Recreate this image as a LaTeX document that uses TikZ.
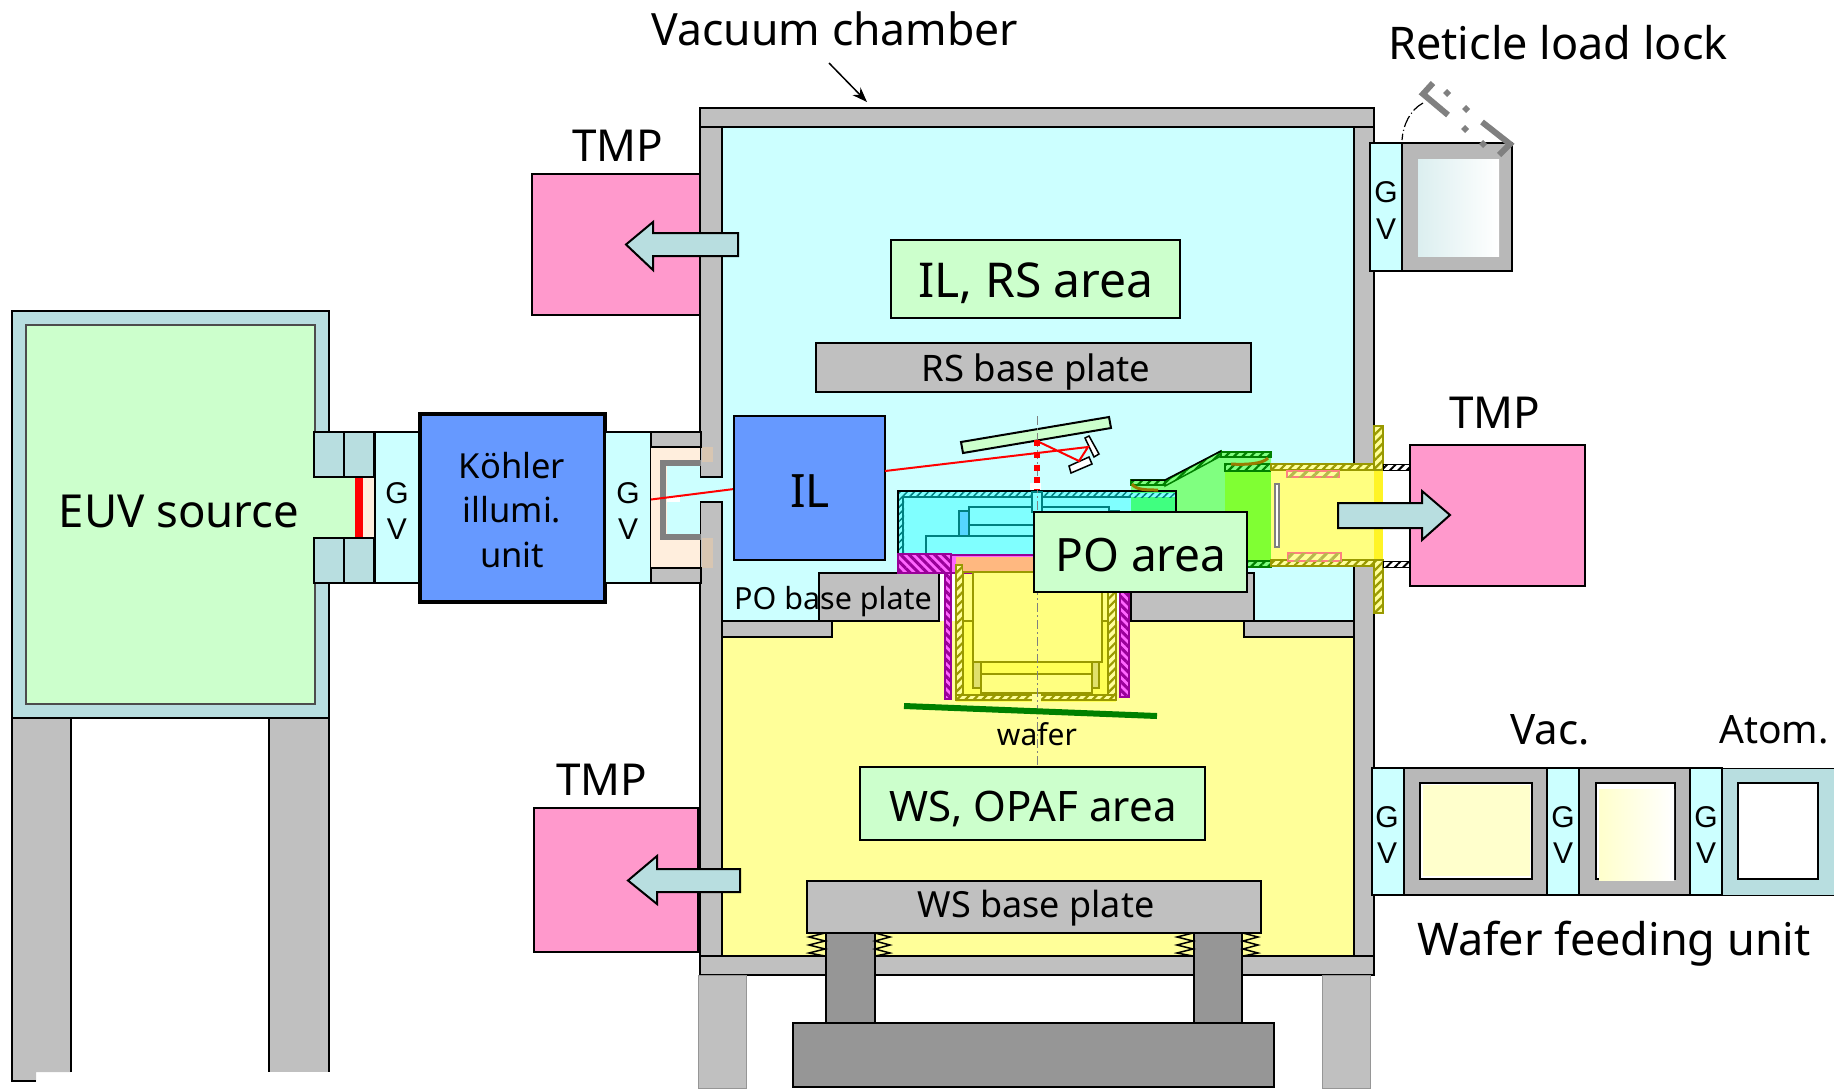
\documentclass[tikz,border=0pt]{standalone}
\usepackage{fontspec}
\setmainfont{Noto Sans}
\usetikzlibrary{patterns.meta,arrows.meta}
\definecolor{cyanbg}{HTML}{CCFFFF}
\definecolor{yelbg}{HTML}{FFFF99}
\definecolor{yelin}{HTML}{FFFF80}
\definecolor{yelbr}{HTML}{FFFF55}
\definecolor{plate}{HTML}{C0C0C0}
\definecolor{tealc}{HTML}{B8DEE0}
\definecolor{greenc}{HTML}{CCFFCC}
\definecolor{bluec}{HTML}{6699FF}
\definecolor{pinkc}{HTML}{FF99CC}
\definecolor{darkg}{HTML}{969696}
\definecolor{peach}{HTML}{FFEEDD}
\definecolor{peachd}{HTML}{D8C6B2}
\definecolor{lockg}{HTML}{B8B8B8}
\definecolor{polyc}{HTML}{80FFFF}
\definecolor{tealline}{HTML}{008080}
\definecolor{olive}{HTML}{999900}
\definecolor{brownc}{HTML}{997A00}
\definecolor{magc}{HTML}{990099}
\definecolor{magl}{HTML}{FF66FF}
\definecolor{doorg}{HTML}{808080}
\definecolor{orgc}{HTML}{FFB880}
\definecolor{lgreen}{HTML}{80FF80}
\definecolor{cgreen}{HTML}{40FF80}
\definecolor{bgreen}{HTML}{80FF33}
\definecolor{bluer}{HTML}{55D5FF}
\newcommand\fsz[1]{\fontsize{#1}{#1}\selectfont}
\newcommand\rc[5]{\path[#1] (#2,#3) rectangle (#4,#5);}
\newcommand\spr[2]{\draw[springline] (#1,933) -- ++(#2,4) -- ++(-#2,4) -- ++(#2,4) -- ++(-#2,4) -- ++(#2,4) -- ++(-#2,3);}
\tikzset{
 bk/.style={draw=black,line width=2pt},
 wall/.style={fill=plate,bk},
 lab/.style={inner sep=0pt,text=black,align=center},
 gvbox/.style={fill=cyanbg,bk},
 gvt/.style={font=\fsz{30}\fontspec{Liberation Sans},inner sep=0pt},
 tealbox/.style={fill=tealc,draw=black,line width=1.5pt},
 tmpbox/.style={fill=pinkc,bk},
 flow/.style={fill=tealc,bk,line join=miter},
 inner block/.style={draw=tealline,line width=1.5pt},
 hatch green/.style={fill=lgreen,draw=green!50!black,line width=1.5pt,postaction={pattern={Lines[angle=45,distance=6pt,line width=2.2pt]},pattern color=green!50!black}},
 hatch yel/.style={fill=yelbg,draw=olive,line width=1.5pt,postaction={pattern={Lines[angle=45,distance=6pt,line width=2.2pt]},pattern color=olive}},
 hatch cy/.style={fill=polyc,postaction={pattern={Lines[angle=45,distance=5pt,line width=1.5pt]},pattern color=tealline}},
 hatch mag/.style={fill=magl,draw=magc,line width=1.5pt,postaction={pattern={Lines[angle=-45,distance=6pt,line width=3pt]},pattern color=magc}},
 hatch pink/.style={fill=yelbg,draw=red!50,line width=1.5pt,postaction={pattern={Lines[angle=45,distance=8pt,line width=3pt]},pattern color=olive!70}},
 hatch bw/.style={fill=white,draw=black,line width=1pt,postaction={pattern={Lines[angle=45,distance=6pt,line width=2pt]},pattern color=black}},
 olivebox/.style={draw=olive,line width=1.5pt},
 springline/.style={draw=black,line width=1.5pt},
 redray/.style={draw=red,line width=2pt},
 axisline/.style={draw=doorg,line width=1pt,dash pattern=on 9pt off 3pt on 2pt off 3pt},
 doorline/.style={draw=doorg,line width=6pt},
 doordot/.style={fill=doorg},
}
\begin{document}
\begin{tikzpicture}[x=1pt,y=-1pt]
\useasboundingbox (0,0) rectangle (1834,1088);
% ---------- chamber interior
\rc{fill=cyanbg}{700}{127}{1354}{621}
\rc{fill=white}{939}{573}{1131}{621}
\rc{fill=yelbg}{722}{621}{1354}{956}
\rc{wall}{700}{127}{722}{477}
\rc{wall}{700}{502}{722}{956}
\rc{wall}{1354}{127}{1374}{956}
\rc{wall}{700}{108}{1374}{127}
\rc{wall}{700}{956}{1374}{975}
\rc{wall}{722}{621}{832}{637}
\rc{wall}{1244}{621}{1354}{637}
% legs
\rc{fill=plate,draw=darkg,line width=1pt}{698}{975}{746}{1088}
\rc{fill=plate,draw=darkg,line width=1pt}{1322}{975}{1370}{1088}
% ---------- EUV source
\path[fill=plate] (12,719) -- (12,1081) -- (36,1081) -- (36,1072) -- (71,1072) -- (71,719) -- cycle;
\draw[black,line width=2pt] (36,1081) -- (12,1081) -- (12,719) (71,719) -- (71,1072);
\rc{fill=plate}{269}{719}{329}{1072}
\draw[black,line width=2pt] (269,719) -- (269,1072) (329,719) -- (329,1072);
\rc{tealbox}{12}{311}{329}{718}
\rc{fill=greenc,draw=black!70,line width=1.5pt}{26}{325}{315}{704}
\rc{fill=greenc}{310}{477}{355}{538}
\rc{fill=peach}{355}{477}{374}{538}
\rc{fill=red}{355}{477}{363}{538}
\rc{tealbox}{314}{432}{344}{477}
\rc{tealbox}{344}{432}{374}{477}
\rc{tealbox}{314}{538}{344}{583}
\rc{tealbox}{344}{538}{374}{583}
\node[lab,font=\fsz{45.5}] (euv) at (179,511) {EUV source};
% ---------- gate valves + Koehler
\rc{gvbox}{375}{432}{419}{583}
\node[gvt] (gv1g) at (397,493) {G};
\node[gvt] (gv1v) at (397,529) {V};
\rc{fill=bluec,draw=black,line width=4pt}{420}{414}{605}{602}
\node[lab,font=\fsz{34.5}] (koh1) at (512,466) {Köhler};
\node[lab,font=\fsz{34.5}] (koh2) at (512,510) {illumi.};
\node[lab,font=\fsz{34.5}] (koh3) at (512,555) {unit};
\rc{gvbox}{605}{432}{651}{583}
\node[gvt] (gv2g) at (628,493) {G};
\node[gvt] (gv2v) at (628,529) {V};
% coupling
\rc{fill=peach}{651}{447}{700}{568}
\rc{wall}{651}{432}{701}{447}
\rc{wall}{651}{568}{701}{583}
\rc{fill=cyanbg}{667}{466}{700}{534}
\rc{fill=cyanbg}{699}{478}{723}{501}
\draw[draw=doorg,line width=6pt] (701,463) -- (663,463) -- (663,537) -- (701,537);
\rc{fill=white}{667}{496}{680}{502}
\rc{fill=peachd}{702}{447}{713}{462}
\rc{fill=peachd}{702}{538}{713}{568}
% ---------- load lock
\rc{gvbox}{1370}{143}{1402}{271}
\node[gvt] (gv3g) at (1386,192) {G};
\node[gvt] (gv3v) at (1386,229) {V};
\rc{fill=lockg,bk}{1402}{143}{1512}{271}
\path[left color=tealc!50,right color=white] (1418,159) rectangle (1499,256);
\draw[doorline] (1433,83) -- (1423,94) -- (1448,115);
\draw[doorline] (1482,122) -- (1510,144) -- (1499,155);
\foreach \p/\q in {1447/93,1466/109,1465/129,1483/144}{\path[doordot] (\p,\q-4) -- (\p+4,\q) -- (\p,\q+4) -- (\p-4,\q) -- cycle;}
\coordinate (arcA) at (1423,103);
\coordinate (arcB) at (1402,140);
\draw[black,line width=1.2pt,dash pattern=on 12pt off 3pt on 1pt off 3pt] (arcA) .. controls (1410,110) and (1403,125) .. (arcB);
% ---------- wafer feeding
\rc{gvbox}{1372}{768}{1404}{895}
\node[gvt] (gv4g) at (1387,817) {G};
\node[gvt] (gv4v) at (1387,853) {V};
\rc{fill=lockg,bk}{1404}{768}{1547}{895}
\rc{fill=white,bk}{1420}{783}{1532}{879}
\rc{fill=yelbg!50!white}{1423}{785}{1530}{876}
\rc{gvbox}{1547}{768}{1579}{895}
\node[gvt] (gv5g) at (1563,817) {G};
\node[gvt] (gv5v) at (1563,853) {V};
\rc{fill=lockg,bk}{1579}{768}{1690}{895}
\rc{fill=white,bk}{1596}{783}{1675}{879}
\path[left color=yelbg!50!white,right color=white] (1599,789) rectangle (1674,880);
\rc{gvbox}{1690}{768}{1722}{895}
\node[gvt] (gv6g) at (1706,817) {G};
\node[gvt] (gv6v) at (1706,853) {V};
\rc{fill=tealc,draw=black,line width=1pt}{1722}{768}{1834}{895}
\rc{fill=white,bk}{1738}{783}{1818}{879}
\node[lab,font=\fsz{42}] (vac) at (1550,730) {Vac.};
\node[lab,font=\fsz{39}] (atom) at (1774,730) {Atom.};
\node[lab,font=\fsz{45}] (wfu) at (1614,944) {Wafer feeding unit};
% ---------- TMPs
\rc{tmpbox}{532}{174}{700}{315}
\rc{tmpbox}{534}{808}{698}{952}
\rc{tmpbox}{1410}{445}{1585}{586}
\node[lab,font=\fsz{44}] (tmp1) at (618,146) {TMP};
\node[lab,font=\fsz{44}] (tmp2) at (602,780) {TMP};
\node[lab,font=\fsz{44}] (tmp3) at (1495,413) {TMP};
\path[flow] (738,233) -- (653,233) -- (653,222) -- (626,244.5) -- (653,270) -- (653,256) -- (738,256) -- cycle;
\path[flow] (740,869) -- (657,869) -- (657,856) -- (628,880.5) -- (657,904) -- (657,892) -- (740,892) -- cycle;
% ---------- base plates + area boxes
\rc{fill=greenc,bk}{891}{240}{1180}{318}
\node[lab,font=\fsz{48}] (ilrs) at (1036,283) {IL, RS area};
\rc{wall}{816}{343}{1251}{392}
\node[lab,font=\fsz{36.5}] (rsb) at (1036,372) {RS base plate};
\rc{wall}{819}{573}{939}{621}
\rc{wall}{1131}{573}{1254}{621}
% ---------- IL + beam
\draw[redray] (651,499.5) -- (734,489);
\rc{fill=bluec,bk}{734}{416}{885}{560}
\node[lab,font=\fsz{46}] (il) at (810,491) {IL};
% ---------- projection optics: cyan body
\rc{fill=polyc,draw=none}{898}{491}{1176}{556}
\rc{hatch cy}{899}{492}{1176}{497}
\rc{hatch cy}{899}{492}{904}{556}
\draw[black,line width=2pt] (898,556) -- (898,491) -- (1176,491) -- (1176,556);
\draw[inner block] (903,556) -- (903,497) -- (1176,497);
\rc{fill=polyc,inner block}{969}{507}{1109}{525}
\rc{fill=polyc,inner block}{1109}{511}{1119}{525}
\rc{fill=polyc,inner block}{969}{525}{1060}{536}
\rc{fill=bluer,inner block}{959}{511}{969}{536}
\rc{fill=polyc,inner block}{926}{536}{1060}{556}
\rc{fill=polyc,inner block}{1032}{492}{1042}{512}
% ---------- wafer-stage optics: yellow
\rc{fill=yelbr}{956}{621}{1116}{702}
\rc{fill=yelin}{956}{557}{1116}{621}
\rc{fill=magl,draw=magc,line width=1.5pt}{951}{555}{1116}{573}
\rc{fill=orgc,draw=none}{956}{557}{1116}{572}
\rc{hatch yel}{956}{565}{963}{700}
\rc{hatch yel}{1108}{565}{1116}{700}
\rc{hatch yel}{956}{695}{1116}{700}
\rc{fill=yelbg}{1032}{693}{1041}{702}
\rc{fill=yelin,olivebox}{973}{572}{1102}{662}
\rc{fill=orgc,draw=none}{963}{558}{1102}{571}
\draw[olivebox] (963,572) -- (1102,572);
\rc{fill=yelbr,olivebox}{981}{662}{1092}{674}
\rc{fill=yelin,olivebox}{981}{674}{1092}{693}
\rc{fill=yelbg!70!olive,olivebox}{973}{662}{981}{688}
\rc{fill=yelbg!70!olive,olivebox}{1092}{662}{1099}{688}
\draw[olivebox] (963,621) -- (973,621) (1102,621) -- (1108,621);
% magenta holders
\rc{hatch mag}{898}{554}{951}{573}
\rc{hatch mag}{945}{573}{951}{699}
\rc{hatch mag}{1120}{592}{1129}{697}
% ---------- green part
\path[fill=lgreen] (1131,485) -- (1165,485) -- (1221,457) -- (1271,457) -- (1271,567) -- (1131,567) -- cycle;
\rc{fill=cgreen}{1131}{491}{1176}{520}
\rc{fill=bgreen}{1225}{471}{1271}{567}
\rc{hatch cy}{1131}{493}{1176}{497}
\draw[black,line width=2pt] (1131,491) -- (1176,491) -- (1176,520);
\path[hatch green] (1131,480) -- (1165,480) -- (1165,485) -- (1131,485) -- cycle;
\path[hatch green] (1165,481) -- (1221,451) -- (1221,456) -- (1165,486) -- cycle;
\rc{hatch green}{1221}{452}{1271}{457}
\rc{hatch green}{1225}{464}{1271}{471}
\rc{hatch green}{1247}{561}{1271}{567}
\draw[black,line width=1.5pt] (1131,480) -- (1165,480) -- (1221,451);
\draw[brownc,line width=3pt] (1132,484) .. controls (1136,490) and (1146,490) .. (1158,490);
\draw[brownc,line width=3pt] (1231,464) .. controls (1245,465) and (1263,464) .. (1268,458);
% ---------- yellow tube
\rc{fill=yelin}{1271}{470}{1374}{561}
\rc{fill=yellow!85}{1374}{470}{1383}{561}
\rc{hatch yel}{1271}{464}{1383}{470}
\rc{hatch yel}{1271}{560}{1383}{566}
\rc{hatch yel}{1374}{426}{1383}{470}
\rc{hatch yel}{1374}{560}{1383}{613}
\rc{hatch bw}{1383}{464}{1409}{470}
\rc{hatch bw}{1383}{561}{1409}{567}
\rc{hatch pink}{1287}{471}{1339}{477}
\rc{hatch pink}{1288}{553}{1341}{561}
\rc{fill=white,draw=doorg,line width=1.5pt}{1275}{484}{1279}{547}
\path[flow] (1338,503) -- (1422,503) -- (1422,491) -- (1450,515) -- (1422,540) -- (1422,528) -- (1338,528) -- cycle;
% ---------- mask + mirrors
\path[fill=greenc,bk] (961,442) -- (1109,417) -- (1111,428) -- (963,453) -- cycle;
\path[fill=white,draw=black,line width=1.5pt] (1085,438) -- (1089,436) -- (1099,454) -- (1094,457) -- cycle;
\path[fill=white,draw=black,line width=1.5pt] (1069,466) -- (1089,457) -- (1092,464) -- (1071,473) -- cycle;
\draw[axisline] (1037,416) -- (1037,765);
\rc{fill=white}{1030}{483}{1041}{490}
\draw[redray] (885,471) -- (1088,447) -- (1079,461) -- (1037,441);
\draw[red,line width=5.5pt,dash pattern=on 6pt off 6.3pt] (1037,440) -- (1037,490);
% ---------- PO area box
\rc{fill=greenc,bk}{1034}{512}{1247}{592}
\node[lab,font=\fsz{46}] (po) at (1141,555) {PO area};
\node[lab,font=\fsz{30.5}] (pob) at (833,602) {PO base plate};
% ---------- wafer
\coordinate (wafA) at (904,706);
\coordinate (wafB) at (1157,716);
\draw[green!50!black,line width=6pt] (wafA) -- (wafB);
\node[lab,font=\fsz{30}] (wafl) at (1037,734) {wafer};
% ---------- WS plate and supports
\rc{fill=plate,bk}{807}{881}{1261}{933}
\node[lab,font=\fsz{36}] (wsb) at (1036,908) {WS base plate};
\rc{fill=greenc,bk}{860}{767}{1205}{840}
\node[lab,font=\fsz{42}] (wsa) at (1033,809) {WS, OPAF area};
\rc{fill=darkg,bk}{826}{933}{875}{1023}
\rc{fill=darkg,bk}{1194}{933}{1242}{1023}
\rc{fill=darkg,bk}{793}{1023}{1274}{1087}
\spr{825}{-16}
\spr{875}{15}
\spr{1193}{-16}
\spr{1243}{15}
% ---------- titles
\node[lab,font=\fsz{44.5}] (vc) at (835,29) {Vacuum chamber};
\node[lab,font=\fsz{45}] (rl) at (1558,43) {Reticle load lock};
\coordinate (vcA) at (829,63);
\coordinate (vcB) at (867,102);
\draw[black,line width=1.5pt,-{Stealth[length=15pt,width=11pt]}] (vcA) -- (vcB);
\end{tikzpicture}
\end{document}
